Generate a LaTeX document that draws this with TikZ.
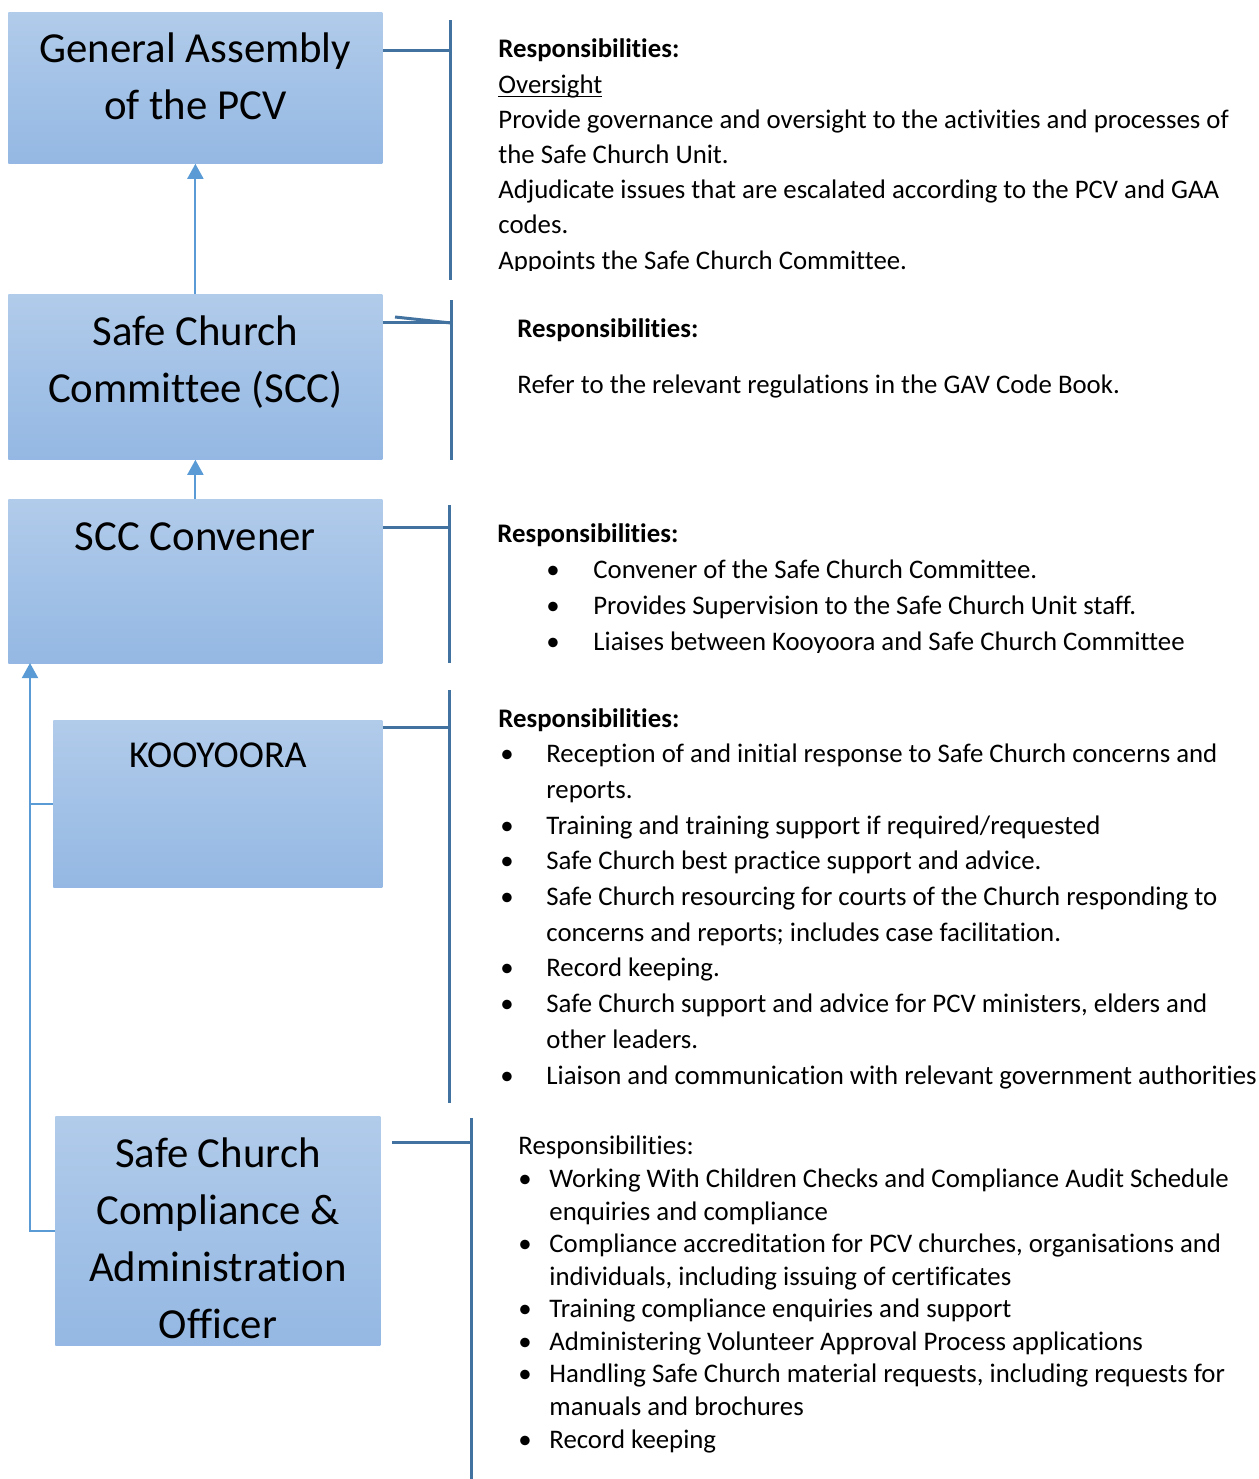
\documentclass[tikz,border=0pt]{standalone}
\usepackage{fontspec}
\setmainfont{Carlito}[Ligatures=NoCommon]
\usetikzlibrary{arrows.meta,calc}

\definecolor{boxtop}{RGB}{177,203,234}
\definecolor{boxbot}{RGB}{148,184,227}
\definecolor{linkblue}{RGB}{91,155,213}
\definecolor{brkblue}{RGB}{66,114,160}

\newcommand\bul[2]{\makebox[#1][l]{\textbullet}#2}
\newcommand\undl[1]{\setbox0\hbox{#1}\rlap{\rule[-2pt]{\wd0}{0.6pt}}\box0}

\begin{document}
\begin{tikzpicture}[x=0.5pt,y=-0.5pt,
  unitbox/.style={rectangle,top color=boxtop,bottom color=boxbot,anchor=north west,inner sep=0pt},
  title/.style={anchor=base,align=center,inner sep=0pt,font=\fontsize{21.4}{28.3}\selectfont},
  duties/.style={anchor=base west,align=left,inner sep=0pt,font=\fontsize{13.4}{17.6}\selectfont},
  upline/.style={linkblue,line width=1pt,-{Triangle[width=8pt,length=7.5pt]}},
  feed/.style={linkblue,line width=0.6pt},
  brk/.style={brkblue,line width=1.5pt}]
  \useasboundingbox (0,0) rectangle (1259,1479);

  % units
  \node[unitbox,minimum width=187pt,minimum height=75.5pt] (ga) at (8,12) {};
  \node[unitbox,minimum width=187pt,minimum height=82.5pt] (scc) at (8,294) {};
  \node[unitbox,minimum width=187pt,minimum height=82pt] (conv) at (8,499) {};
  \node[unitbox,minimum width=164.5pt,minimum height=83.5pt] (koo) at (53,720) {};
  \node[unitbox,minimum width=162.5pt,minimum height=114.5pt] (off) at (55,1116) {};

  % titles sit on the baseline of their last line
  \node[title] (ga-t) at ($(ga.north)+(0,107)$) {General Assembly\\of the PCV};
  \node[title] (scc-t) at ($(scc.north)+(0,108)$) {Safe Church\\Committee (SCC)};
  \node[title] (conv-t) at ($(conv.north)+(0,51)$) {SCC Convener};
  \node[title,font=\fontsize{19}{24}\selectfont] (koo-t) at ($(koo.north)+(0,47)$) {KOOYOORA};
  \node[title,font=\fontsize{21.4}{28.4}\selectfont] (off-t) at ($(off.north)+(0,222)$) {Safe Church\\Compliance \&\\Administration\\Officer};

  % reporting lines
  \draw[upline] (scc) -- (ga);
  \draw[upline] (conv) -- (scc);
  \coordinate (rise) at (30,663);
  \draw[upline] (koo.west) -| (rise);
  \draw[feed] (off.west) -| (koo.west -| rise);

  % brackets
  \foreach \bx/\ytop/\ybot in {450/20/280,451/300/460,449/505/663,449/690/1103,471/1118/1479}
    \draw[brk] (\bx,\ytop) -- (\bx,\ybot);
  \draw[brk] ($(ga.north east)+(0,38)$) -- (450,50);
  \draw[brk] ($(scc.north east)+(0,28)$) -- (451,322);
  \draw[brk] (395,317) -- (451,323);
  \draw[brk] ($(conv.north east)+(0,28)$) -- (449,527);
  \draw[brk] ($(koo.north east)+(0,7)$) -- (449,727);
  \draw[brk] ($(off.north east)+(11,26)$) -- (471,1142);

  % responsibilities
  \begin{scope}
    \clip (480,0) rectangle (1259,270);
    \node[duties] (ga-d) at (498,269) {\textbf{Responsibilities:}\\
      \undl{Oversight}\\
      Provide governance and oversight to the activities and processes of\\
      the Safe Church Unit.\\
      Adjudicate issues that are escalated according to the PCV and GAA\\
      codes.\\
      Appoints the Safe Church Committee.};
  \end{scope}

  \node[duties] (scc-d) at (517,393) {\textbf{Responsibilities:}\\[10.4pt]
    Refer to the relevant regulations in the GAV Code Book.};

  \begin{scope}
    \clip (480,500) rectangle (1259,652);
    \node[duties,font=\fontsize{13.4}{18}\selectfont] (conv-d) at (497,650) {\textbf{Responsibilities:}\\
      \hspace*{24.5pt}\bul{23.5pt}{Convener of the Safe Church Committee.}\\
      \hspace*{24.5pt}\bul{23.5pt}{Provides Supervision to the Safe Church Unit staff.}\\
      \hspace*{24.5pt}\bul{23.5pt}{Liaises between Kooyoora and Safe Church Committee}};
  \end{scope}

  \node[duties,font=\fontsize{13.4}{17.85}\selectfont] (koo-d) at (498,1084) {\textbf{Responsibilities:}\\
    \hspace*{1pt}\bul{23pt}{Reception of and initial response to Safe Church concerns and}\\
    \hspace*{24pt}reports.\\
    \hspace*{1pt}\bul{23pt}{Training and training support if required/requested}\\
    \hspace*{1pt}\bul{23pt}{Safe Church best practice support and advice.}\\
    \hspace*{1pt}\bul{23pt}{Safe Church resourcing for courts of the Church responding to}\\
    \hspace*{24pt}concerns and reports; includes case facilitation.\\
    \hspace*{1pt}\bul{23pt}{Record keeping.}\\
    \hspace*{1pt}\bul{23pt}{Safe Church support and advice for PCV ministers, elders and}\\
    \hspace*{24pt}other leaders.\\
    \hspace*{1pt}\bul{23pt}{Liaison and communication with relevant government authorities}};

  \node[duties,font=\fontsize{13.4}{16.28}\selectfont] (off-d) at (518,1448) {Responsibilities:\\
    \bul{15.5pt}{Working With Children Checks and Compliance Audit Schedule}\\
    \hspace*{15.5pt}enquiries and compliance\\
    \bul{15.5pt}{Compliance accreditation for PCV churches, organisations and}\\
    \hspace*{15.5pt}individuals, including issuing of certificates\\
    \bul{15.5pt}{Training compliance enquiries and support}\\
    \bul{15.5pt}{Administering Volunteer Approval Process applications}\\
    \bul{15.5pt}{Handling Safe Church material requests, including requests for}\\
    \hspace*{15.5pt}manuals and brochures\\
    \bul{15.5pt}{Record keeping}};
\end{tikzpicture}
\end{document}
